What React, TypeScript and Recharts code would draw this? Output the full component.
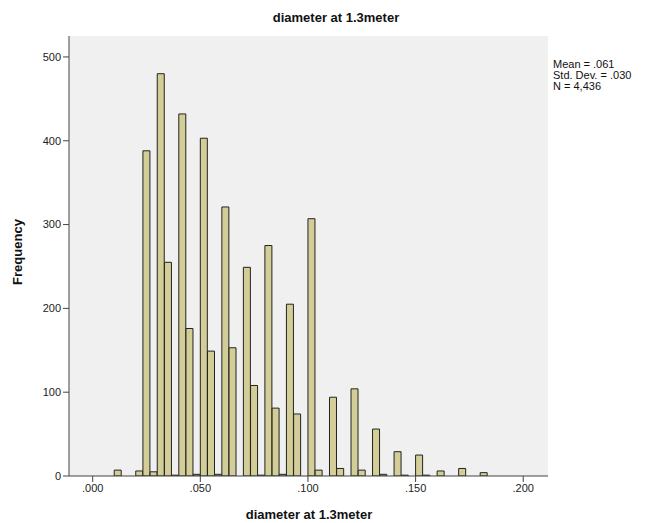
import React from 'react';
import { BarChart, Bar, XAxis, YAxis, CartesianGrid } from 'recharts';

// Histogram bins: each bin k covers [k*BIN_WIDTH, (k+1)*BIN_WIDTH)
const BIN_WIDTH = 1 / 300;
const binIndex = [3, 6, 7, 8, 9, 10, 11, 12, 13, 14, 15, 16, 17, 18, 19, 21, 22, 23, 24, 25, 26, 27, 28, 30, 31, 33, 34, 36, 37, 39, 40, 42, 43, 45, 46, 48, 51, 54];
const counts = [7, 6, 388, 5, 480, 255, 1, 432, 176, 2, 403, 149, 2, 321, 153, 249, 108, 1, 275, 81, 2, 205, 74, 307, 7, 94, 9, 104, 7, 56, 2, 29, 1, 25, 1, 6, 9, 4];

const xTicks = [0, 0.05, 0.1, 0.15, 0.2];
const yTicks = [0, 100, 200, 300, 400, 500];
const xDomain = [-0.011, 0.2115];
const yDomain = [0, 525];

const titleText = 'diameter at 1.3meter';
const xTitle = 'diameter at 1.3meter';
const yTitle = 'Frequency';
const statLines = ['Mean = .061', 'Std. Dev. = .030', 'N = 4,436'];

const data = binIndex.map((k, i) => ({ x: (k + 0.5) * BIN_WIDTH, count: counts[i] }));

const FONT = '"Liberation Sans", Arial, sans-serif';
const fmtX = (v: number) => v.toFixed(3).replace(/^0/, '');

export default function App() {
  return (
    <div style={{ position: 'absolute', left: 0, top: 0, width: 648, height: 523, background: '#fff', fontFamily: FONT }}>
      <BarChart
        width={648}
        height={523}
        data={data}
        margin={{ top: 36, right: 100, bottom: 0, left: 0 }}
        barCategoryGap={0}
        barGap={0}
      >
        <CartesianGrid horizontal={false} vertical={false} fill="#f0f0f0" />
        <XAxis
          dataKey="x"
          type="number"
          domain={xDomain}
          allowDataOverflow
          ticks={xTicks}
          tickFormatter={fmtX}
          height={47}
          tickSize={6}
          stroke="#444"
          tick={{ fill: '#222', fontSize: 11, fontFamily: FONT }}
          interval={0}
        />
        <XAxis
          xAxisId="top"
          orientation="top"
          type="number"
          domain={xDomain}
          height={0}
          tick={false}
          tickLine={false}
          stroke="#444"
        />
        <YAxis
          type="number"
          domain={yDomain}
          allowDataOverflow
          ticks={yTicks}
          width={69}
          tickSize={6}
          stroke="#444"
          tick={{ fill: '#222', fontSize: 11, fontFamily: FONT }}
          interval={0}
        />
        <YAxis
          yAxisId="right"
          orientation="right"
          width={0}
          tick={false}
          tickLine={false}
          stroke="#444"
        />
        <Bar dataKey="count" fill="#d3ce97" stroke="#222" strokeWidth={1} isAnimationActive={false} />
      </BarChart>
      <div style={{ position: 'absolute', left: 236, width: 200, top: 10, textAlign: 'center', fontSize: 13, fontWeight: 'bold', color: '#111' }}>
        {titleText}
      </div>
      <div style={{ position: 'absolute', left: 209, width: 200, top: 507, textAlign: 'center', fontSize: 13, fontWeight: 'bold', color: '#111' }}>
        {xTitle}
      </div>
      <div style={{ position: 'absolute', left: 18, top: 252, width: 0, height: 0 }}>
        <div style={{ position: 'absolute', left: -50, top: -8, width: 100, textAlign: 'center', fontSize: 13, fontWeight: 'bold', color: '#111', transform: 'rotate(-90deg)', lineHeight: '16px' }}>
          {yTitle}
        </div>
      </div>
      <div style={{ position: 'absolute', left: 553, top: 59, fontSize: 11, lineHeight: '11px', color: '#111' }}>
        {statLines.map((s) => (
          <div key={s} style={{ height: 11, whiteSpace: 'nowrap' }}>{s}</div>
        ))}
      </div>
    </div>
  );
}
